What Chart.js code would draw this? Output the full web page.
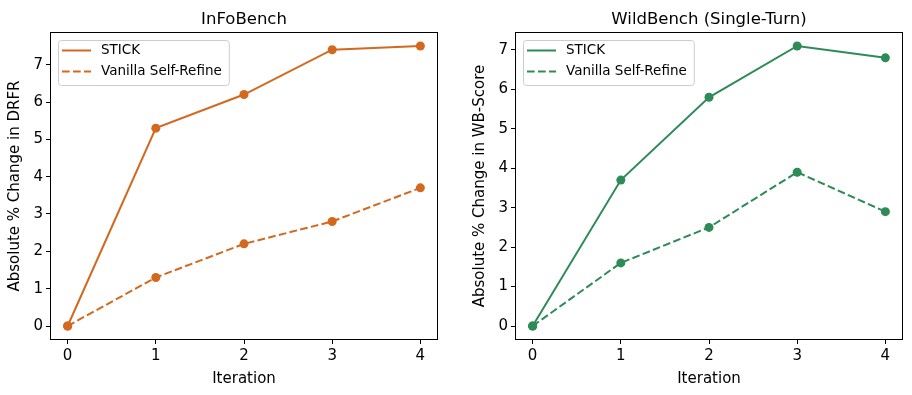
<!DOCTYPE html>
<html>
<head>
<meta charset="utf-8">
<script src="https://cdn.jsdelivr.net/npm/chart.js@4"></script>
<style>
body { margin: 0; background: #fff; }
#wrap { position: relative; width: 912px; height: 395px; }
.panel { position: absolute; top: 0; width: 456px; height: 395px; }
</style>
</head>
<body>
<div id="wrap">
  <div class="panel" style="left:0"><canvas id="infoChart" width="456" height="395"></canvas></div>
  <div class="panel" style="left:456px"><canvas id="wildChart" width="456" height="395"></canvas></div>
</div>
<script>
const iterations = [0, 1, 2, 3, 4];
const infoStick = [0, 5.3, 6.2, 7.4, 7.5];
const infoVanilla = [0, 1.3, 2.2, 2.8, 3.7];
const wildStick = [0, 3.7, 5.8, 7.1, 6.8];
const wildVanilla = [0, 1.6, 2.5, 3.9, 2.9];
const seriesNames = ["STICK", "Vanilla Self-Refine"];
const yTickValues = [0, 1, 2, 3, 4, 5, 6, 7];

const FONT = "'DejaVu Sans', sans-serif";

// titles, frame and the boxed legend, drawn like matplotlib does
const decor = {
    id: "decor",
    afterDraw(chart, args, opts) {
        const ctx = chart.ctx;
        const a = chart.chartArea;
        ctx.save();

        // axes frame
        ctx.strokeStyle = "#000";
        ctx.lineWidth = 1;
        ctx.setLineDash([]);
        ctx.strokeRect(a.left + 0.5, a.top + 0.5, a.width - 1, a.height - 1);

        ctx.fillStyle = "#000";
        ctx.textAlign = "center";
        ctx.textBaseline = "alphabetic";
        ctx.font = "16.5px " + FONT;
        ctx.fillText(opts.title, (a.left + a.right) / 2, 24);

        ctx.font = "15px " + FONT;
        ctx.fillText("Iteration", (a.left + a.right) / 2, 383);

        ctx.save();
        ctx.translate(a.left - 31, (a.top + a.bottom) / 2);
        ctx.rotate(-Math.PI / 2);
        ctx.fillText(opts.yTitle, 0, 0);
        ctx.restore();

        // legend
        ctx.font = "13.5px " + FONT;
        const bx = a.left + 8, by = a.top + 8, bh = 45;
        const textX = bx + 43;
        const maxW = Math.max(...seriesNames.map(n => ctx.measureText(n).width));
        const bw = textX - bx + maxW + 7;
        ctx.beginPath();
        ctx.roundRect(bx + 0.5, by + 0.5, bw, bh, 3);
        ctx.fillStyle = "rgba(255,255,255,0.8)";
        ctx.fill();
        ctx.strokeStyle = "#cccccc";
        ctx.lineWidth = 1;
        ctx.stroke();

        chart.data.datasets.forEach((ds, i) => {
            const y = by + 10.5 + i * 21;
            ctx.strokeStyle = ds.borderColor;
            ctx.lineWidth = ds.borderWidth;
            ctx.setLineDash(ds.borderDash || []);
            ctx.beginPath();
            ctx.moveTo(bx + 4, y);
            ctx.lineTo(bx + 33, y);
            ctx.stroke();
            ctx.setLineDash([]);
            ctx.fillStyle = "#000";
            ctx.textAlign = "left";
            ctx.textBaseline = "middle";
            ctx.fillText(ds.label, textX, y);
        });
        ctx.restore();
    }
};

function makeChart(id, cfg) {
    const toPoints = vals => iterations.map((x, i) => ({ x: x, y: vals[i] }));
    const lineStyle = {
        borderColor: cfg.color,
        backgroundColor: cfg.color,
        pointBackgroundColor: cfg.color,
        pointBorderWidth: 0,
        pointRadius: 4.5,
        pointHoverRadius: 4.5,
        borderWidth: 2,
        tension: 0,
        clip: false
    };
    return new Chart(document.getElementById(id).getContext("2d"), {
        type: "line",
        data: {
            datasets: [
                Object.assign({ label: seriesNames[0], data: toPoints(cfg.stick) }, lineStyle),
                Object.assign({ label: seriesNames[1], data: toPoints(cfg.vanilla), borderDash: [7.7, 3.3] }, lineStyle)
            ]
        },
        options: {
            responsive: false,
            animation: false,
            layout: { padding: { left: 0, top: 32, right: cfg.rightPad, bottom: 0 } },
            plugins: {
                legend: { display: false },
                title: { display: false },
                tooltip: { enabled: false },
                decor: { title: cfg.title, yTitle: cfg.yTitle }
            },
            scales: {
                x: {
                    type: "linear",
                    min: -0.2,
                    max: 4.2,
                    afterBuildTicks: s => { s.ticks = iterations.map(v => ({ value: v })); },
                    afterFit: s => { s.height = 55; },
                    border: { display: false },
                    grid: { drawOnChartArea: false, drawTicks: true, tickLength: 4, color: "#000", lineWidth: 1 },
                    ticks: { color: "#000", padding: 3, font: { family: FONT, size: 15 }, maxRotation: 0 }
                },
                y: {
                    type: "linear",
                    min: cfg.yMin,
                    max: cfg.yMax,
                    afterBuildTicks: s => { s.ticks = yTickValues.map(v => ({ value: v })); },
                    afterFit: s => { s.width = cfg.axisWidth; },
                    border: { display: false },
                    grid: { drawOnChartArea: false, drawTicks: true, tickLength: 4, color: "#000", lineWidth: 1 },
                    ticks: { color: "#000", padding: 3, font: { family: FONT, size: 15 } }
                }
            }
        },
        plugins: [decor]
    });
}

makeChart("infoChart", {
    title: "InFoBench",
    yTitle: "Absolute % Change in DRFR",
    stick: infoStick,
    vanilla: infoVanilla,
    color: "#D2691E",
    yMin: -0.375,
    yMax: 7.875,
    axisWidth: 50,
    rightPad: 18
});

makeChart("wildChart", {
    title: "WildBench (Single-Turn)",
    yTitle: "Absolute % Change in WB-Score",
    stick: wildStick,
    vanilla: wildVanilla,
    color: "#2E8B57",
    yMin: -0.355,
    yMax: 7.455,
    axisWidth: 59,
    rightPad: 9
});
</script>
</body>
</html>
